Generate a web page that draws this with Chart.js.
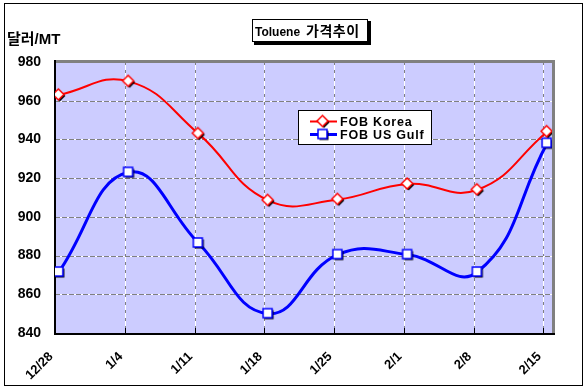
<!DOCTYPE html>
<html>
<head>
<meta charset="utf-8">
<script src="https://cdn.jsdelivr.net/npm/chart.js@4.4.1/dist/chart.umd.min.js"></script>
<style>
  html, body { margin: 0; padding: 0; background: #ffffff; }
  canvas { display: block; }
</style>
</head>
<body>
<canvas id="c" width="588" height="390"></canvas>
<script>
// ---- data ----
const categories = ['12/28', '1/4', '1/11', '1/18', '1/25', '2/1', '2/8', '2/15'];
const koreaValues = [963, 970, 943, 908.5, 909, 917, 914, 944];
const usGulfValues = [871.5, 923, 886.5, 850, 880.5, 880.5, 871.5, 938];
const yTickValues = [840, 860, 880, 900, 920, 940, 960, 980];
const seriesNames = ['FOB Korea', 'FOB US Gulf'];
const chartTitleLatin = 'Toluene';
const chartTitleKorean = '가격추이';
const yAxisTitle = '달러/MT';

// ---- styles ----
const FONT = "'Liberation Sans', Arial, 'Noto Sans CJK KR', sans-serif";
const PLOT_BG = '#CCCCFF';
const GRID_SHIFT = 0.055;

function makeMarker(kind, color) {
  const c = document.createElement('canvas');
  c.width = 18; c.height = 18;
  const g = c.getContext('2d');
  function shape(cx, cy) {
    g.beginPath();
    if (kind === 'diamond') {
      const r = 5.5;
      g.moveTo(cx, cy - r); g.lineTo(cx + r, cy); g.lineTo(cx, cy + r); g.lineTo(cx - r, cy); g.closePath();
    } else {
      const h = 4.5;
      g.rect(cx - h, cy - h, 2 * h, 2 * h);
    }
  }
  shape(10, 10);
  g.fillStyle = '#000'; g.fill();
  shape(8.5, 8.5);
  g.fillStyle = '#fff'; g.fill();
  g.lineWidth = 1.5; g.strokeStyle = color; g.stroke();
  return c;
}
const diamondMarker = makeMarker('diamond', '#FF0000');
const squareMarker = makeMarker('square', '#0000FF');

const decor = {
  id: 'decor',
  beforeDraw(chart) {
    const ctx = chart.ctx;
    const a = chart.chartArea;
    ctx.save();
    ctx.fillStyle = '#fff';
    ctx.fillRect(0, 0, chart.width, chart.height);
    ctx.strokeStyle = '#000'; ctx.lineWidth = 1;
    ctx.strokeRect(4.5, 3.5, 578, 382);
    ctx.fillStyle = PLOT_BG;
    ctx.fillRect(a.left, a.top, a.right - a.left, a.bottom - a.top);
    // grid
    const xs = chart.scales.x, ys = chart.scales.y;
    ctx.lineWidth = 1;
    xs.ticks.forEach(t => {
      const x = Math.round(xs.getPixelForValue(t.value)) + 0.5;
      ctx.setLineDash([]); ctx.strokeStyle = '#ffffff';
      ctx.beginPath(); ctx.moveTo(x, a.top); ctx.lineTo(x, a.bottom); ctx.stroke();
      ctx.setLineDash([3, 5]); ctx.strokeStyle = '#808080';
      ctx.beginPath(); ctx.moveTo(x, a.top); ctx.lineTo(x, a.bottom); ctx.stroke();
    });
    ys.ticks.forEach(t => {
      const y = Math.round(ys.getPixelForValue(t.value)) + 0.5;
      ctx.setLineDash([]); ctx.strokeStyle = '#ffffff';
      ctx.beginPath(); ctx.moveTo(a.left, y); ctx.lineTo(a.right, y); ctx.stroke();
      ctx.setLineDash([5, 2]); ctx.strokeStyle = '#808080';
      ctx.beginPath(); ctx.moveTo(a.left, y); ctx.lineTo(a.right, y); ctx.stroke();
    });
    ctx.setLineDash([]);
    ctx.restore();
  },
  beforeDatasetsDraw(chart) {
    const ctx = chart.ctx;
    const a = chart.chartArea;
    const xs = chart.scales.x;
    ctx.save();
    // gray top/right border
    ctx.strokeStyle = '#808080'; ctx.lineWidth = 3;
    ctx.beginPath();
    ctx.moveTo(a.left, a.top - 0.5); ctx.lineTo(a.right + 1.5, a.top - 0.5); ctx.lineTo(a.right + 1.5, a.bottom);
    ctx.stroke();
    // black axes
    ctx.strokeStyle = '#000'; ctx.lineWidth = 2;
    ctx.beginPath();
    ctx.moveTo(a.left, a.top - 2); ctx.lineTo(a.left, a.bottom + 1); ctx.lineTo(a.right + 3, a.bottom + 1);
    ctx.stroke();
    ctx.lineWidth = 1;
    xs.ticks.forEach(t => {
      const x = Math.round(xs.getPixelForValue(t.value)) + 0.5;
      ctx.beginPath(); ctx.moveTo(x, a.bottom); ctx.lineTo(x, a.bottom - 5); ctx.stroke();
    });
    ctx.restore();
  },
  afterDraw(chart) {
    const ctx = chart.ctx;
    ctx.save();
    // y axis title
    ctx.fillStyle = '#000';
    ctx.font = 'bold 15px ' + FONT;
    ctx.textBaseline = 'alphabetic';
    ctx.textAlign = 'left';
    ctx.fillText(yAxisTitle, 7, 44);
    // title box
    ctx.fillStyle = '#000';
    ctx.fillRect(254, 21, 117, 24);
    ctx.fillStyle = '#fff';
    ctx.fillRect(252, 19, 116, 23);
    ctx.strokeStyle = '#000'; ctx.lineWidth = 1;
    ctx.strokeRect(252.5, 19.5, 115, 22);
    ctx.fillStyle = '#000';
    ctx.font = 'bold 12px ' + FONT;
    ctx.fillText(chartTitleLatin, 255, 36);
    ctx.font = 'bold 14px ' + FONT;
    ctx.letterSpacing = '0.5px';
    ctx.fillText(chartTitleKorean, 306, 36);
    ctx.letterSpacing = '0px';
    // legend
    const lx = 298, ly = 110, lw = 134, lh = 35;
    ctx.fillStyle = '#fff';
    ctx.fillRect(lx, ly, lw, lh);
    ctx.strokeStyle = '#000';
    ctx.strokeRect(lx + 0.5, ly + 0.5, lw - 1, lh - 1);
    const items = [
      { name: seriesNames[0], color: '#FF0000', w: 2, m: diamondMarker, y: 121.5 },
      { name: seriesNames[1], color: '#0000FF', w: 3, m: squareMarker, y: 134.5 }
    ];
    items.forEach(it => {
      ctx.strokeStyle = it.color; ctx.lineWidth = it.w;
      ctx.beginPath(); ctx.moveTo(310, it.y); ctx.lineTo(337, it.y); ctx.stroke();
      ctx.drawImage(it.m, 323 - 9, it.y - 9);
      ctx.fillStyle = '#000';
      ctx.font = 'bold 12.5px ' + FONT;
      ctx.letterSpacing = '0.8px';
      ctx.textBaseline = 'middle';
      ctx.fillText(it.name, 340, it.y + 1);
      ctx.letterSpacing = '0px';
    });
    ctx.restore();
  }
};

new Chart(document.getElementById('c'), {
  type: 'line',
  data: {
    datasets: [
      {
        label: seriesNames[0],
        data: koreaValues.map((v, i) => ({ x: i, y: v })),
        borderColor: '#FF0000',
        borderWidth: 2,
        tension: 0.45,
        pointStyle: diamondMarker,
        pointRadius: 6,
        fill: false
      },
      {
        label: seriesNames[1],
        data: usGulfValues.map((v, i) => ({ x: i, y: v })),
        borderColor: '#0000FF',
        borderWidth: 3,
        tension: 0.45,
        pointStyle: squareMarker,
        pointRadius: 6,
        fill: false
      }
    ]
  },
  options: {
    responsive: false,
    animation: false,
    events: [],
    layout: { padding: { top: 62, left: 0, right: 36, bottom: 0 } },
    plugins: { legend: { display: false }, title: { display: false }, tooltip: { enabled: false } },
    scales: {
      x: {
        type: 'linear',
        min: -GRID_SHIFT,
        max: 7.07,
        afterBuildTicks(scale) { scale.ticks = categories.map((_, i) => ({ value: i - GRID_SHIFT })); },
        afterFit(scale) { scale.height = 57; },
        grid: { display: false, drawTicks: false },
        border: { display: false },
        ticks: {
          autoSkip: false,
          maxRotation: 45,
          minRotation: 45,
          padding: 16,
          labelOffset: -4,
          color: '#000',
          font: { family: FONT, size: 13, weight: 'bold' },
          callback: (v, idx) => categories[idx]
        }
      },
      y: {
        min: 840,
        max: 980,
        afterBuildTicks(scale) { scale.ticks = yTickValues.map(v => ({ value: v })); },
        afterFit(scale) { scale.width = 55; },
        grid: { display: false, drawTicks: false },
        border: { display: false },
        ticks: {
          padding: 14,
          color: '#000',
          font: { family: FONT, size: 14, weight: 'bold' }
        }
      }
    }
  },
  plugins: [decor]
});
</script>
</body>
</html>
